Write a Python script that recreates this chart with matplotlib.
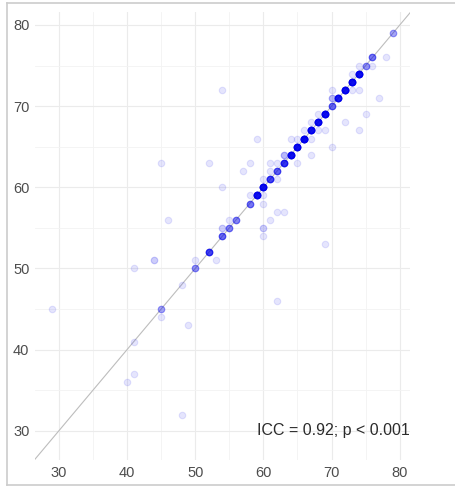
import numpy as np
import matplotlib
matplotlib.use('Agg')
import matplotlib.pyplot as plt
from matplotlib.lines import Line2D

plt.rcParams['font.family'] = ['Liberation Sans', 'DejaVu Sans']

# rating pairs (rater 1, rater 2) and how many subjects share each pair
rater1 = [45, 48, 41, 50, 52, 54, 55, 56, 58, 59, 60, 61, 62, 63, 64, 65, 66, 67, 68, 69,
          70, 71, 72, 73, 74, 75, 76, 79,
          29, 40, 41, 48, 49, 45, 41, 44, 50, 53, 46, 45, 52, 54, 54, 54, 55, 57, 58, 58,
          60, 60, 60, 60, 61, 62, 63, 62, 69, 59, 60, 62, 61, 61, 62, 65, 63, 67, 70, 64,
          65, 67, 66, 68, 69, 74, 67, 72, 68, 75, 70, 77, 70, 73, 74, 73, 74, 76, 78]
rater2 = [45, 48, 41, 50, 52, 54, 55, 56, 58, 59, 60, 61, 62, 63, 64, 65, 66, 67, 68, 69,
          70, 71, 72, 73, 74, 75, 76, 79,
          45, 36, 37, 32, 43, 44, 50, 51, 51, 51, 56, 63, 63, 72, 60, 55, 56, 62, 63, 59,
          59, 58, 55, 54, 56, 57, 57, 46, 53, 66, 61, 61, 62, 63, 63, 63, 64, 64, 65, 66,
          66, 66, 67, 67, 67, 67, 68, 68, 69, 69, 71, 71, 72, 72, 72, 74, 75, 75, 76]
n_subjects = [4, 1, 1, 5, 12, 8, 6, 6, 7, 24, 24, 12, 9, 14, 24, 24, 28, 24, 24, 24,
              8, 20, 24, 24, 24, 5, 7, 4,
              1, 1, 1, 1, 1, 1, 1, 2, 1, 1, 1, 1, 1, 1, 1, 2, 1, 1, 1, 1,
              1, 1, 2, 1, 1, 1, 1, 1, 1, 1, 1, 1, 1, 1, 1, 1, 3, 1, 1, 1,
              1, 1, 1, 1, 1, 1, 1, 1, 1, 1, 3, 1, 1, 1, 1, 1, 1, 1, 1]
icc_label = 'ICC = 0.92; p < 0.001'

xs = np.repeat(rater1, n_subjects)
ys = np.repeat(rater2, n_subjects)

fig = plt.figure(figsize=(4.55, 4.87), dpi=100)
ax = fig.add_axes([35 / 455, 27 / 487, 375 / 455, 448 / 487])

ax.set_xlim(26.5, 81.5)
ax.set_ylim(26.4, 81.6)

ax.set_xticks([30, 40, 50, 60, 70, 80])
ax.set_yticks([30, 40, 50, 60, 70, 80])
ax.set_xticks(np.arange(35, 81, 10), minor=True)
ax.set_yticks(np.arange(35, 81, 10), minor=True)
ax.grid(True, which='major', color='#ebebeb', linewidth=0.8)
ax.grid(True, which='minor', color='#f3f3f3', linewidth=0.6)
ax.set_axisbelow(True)
for s in ax.spines.values():
    s.set_visible(False)
ax.tick_params(which='both', length=0, labelsize=10.5, labelcolor='#4d4d4d', pad=4)

ax.axline((30, 30), slope=1, color='#bdbdbd', linewidth=0.8, zorder=1)

ax.scatter(xs, ys, s=22, color='#0000ee', alpha=0.1, linewidths=0.8, zorder=2)

ax.text(81.5, 30, icc_label, ha='right', va='center', fontsize=11.5, color='#2b2b2b')

# screenshot frame
fig.add_artist(Line2D([7 / 455, 7 / 455], [2 / 487, 484 / 487], color='#cccccc', linewidth=1.2))
fig.add_artist(Line2D([7 / 455, 1], [484 / 487, 484 / 487], color='#cccccc', linewidth=1.2))
fig.add_artist(Line2D([7 / 455, 1], [2 / 487, 2 / 487], color='#cccccc', linewidth=1.2))

fig.savefig('out.png', dpi=100)
